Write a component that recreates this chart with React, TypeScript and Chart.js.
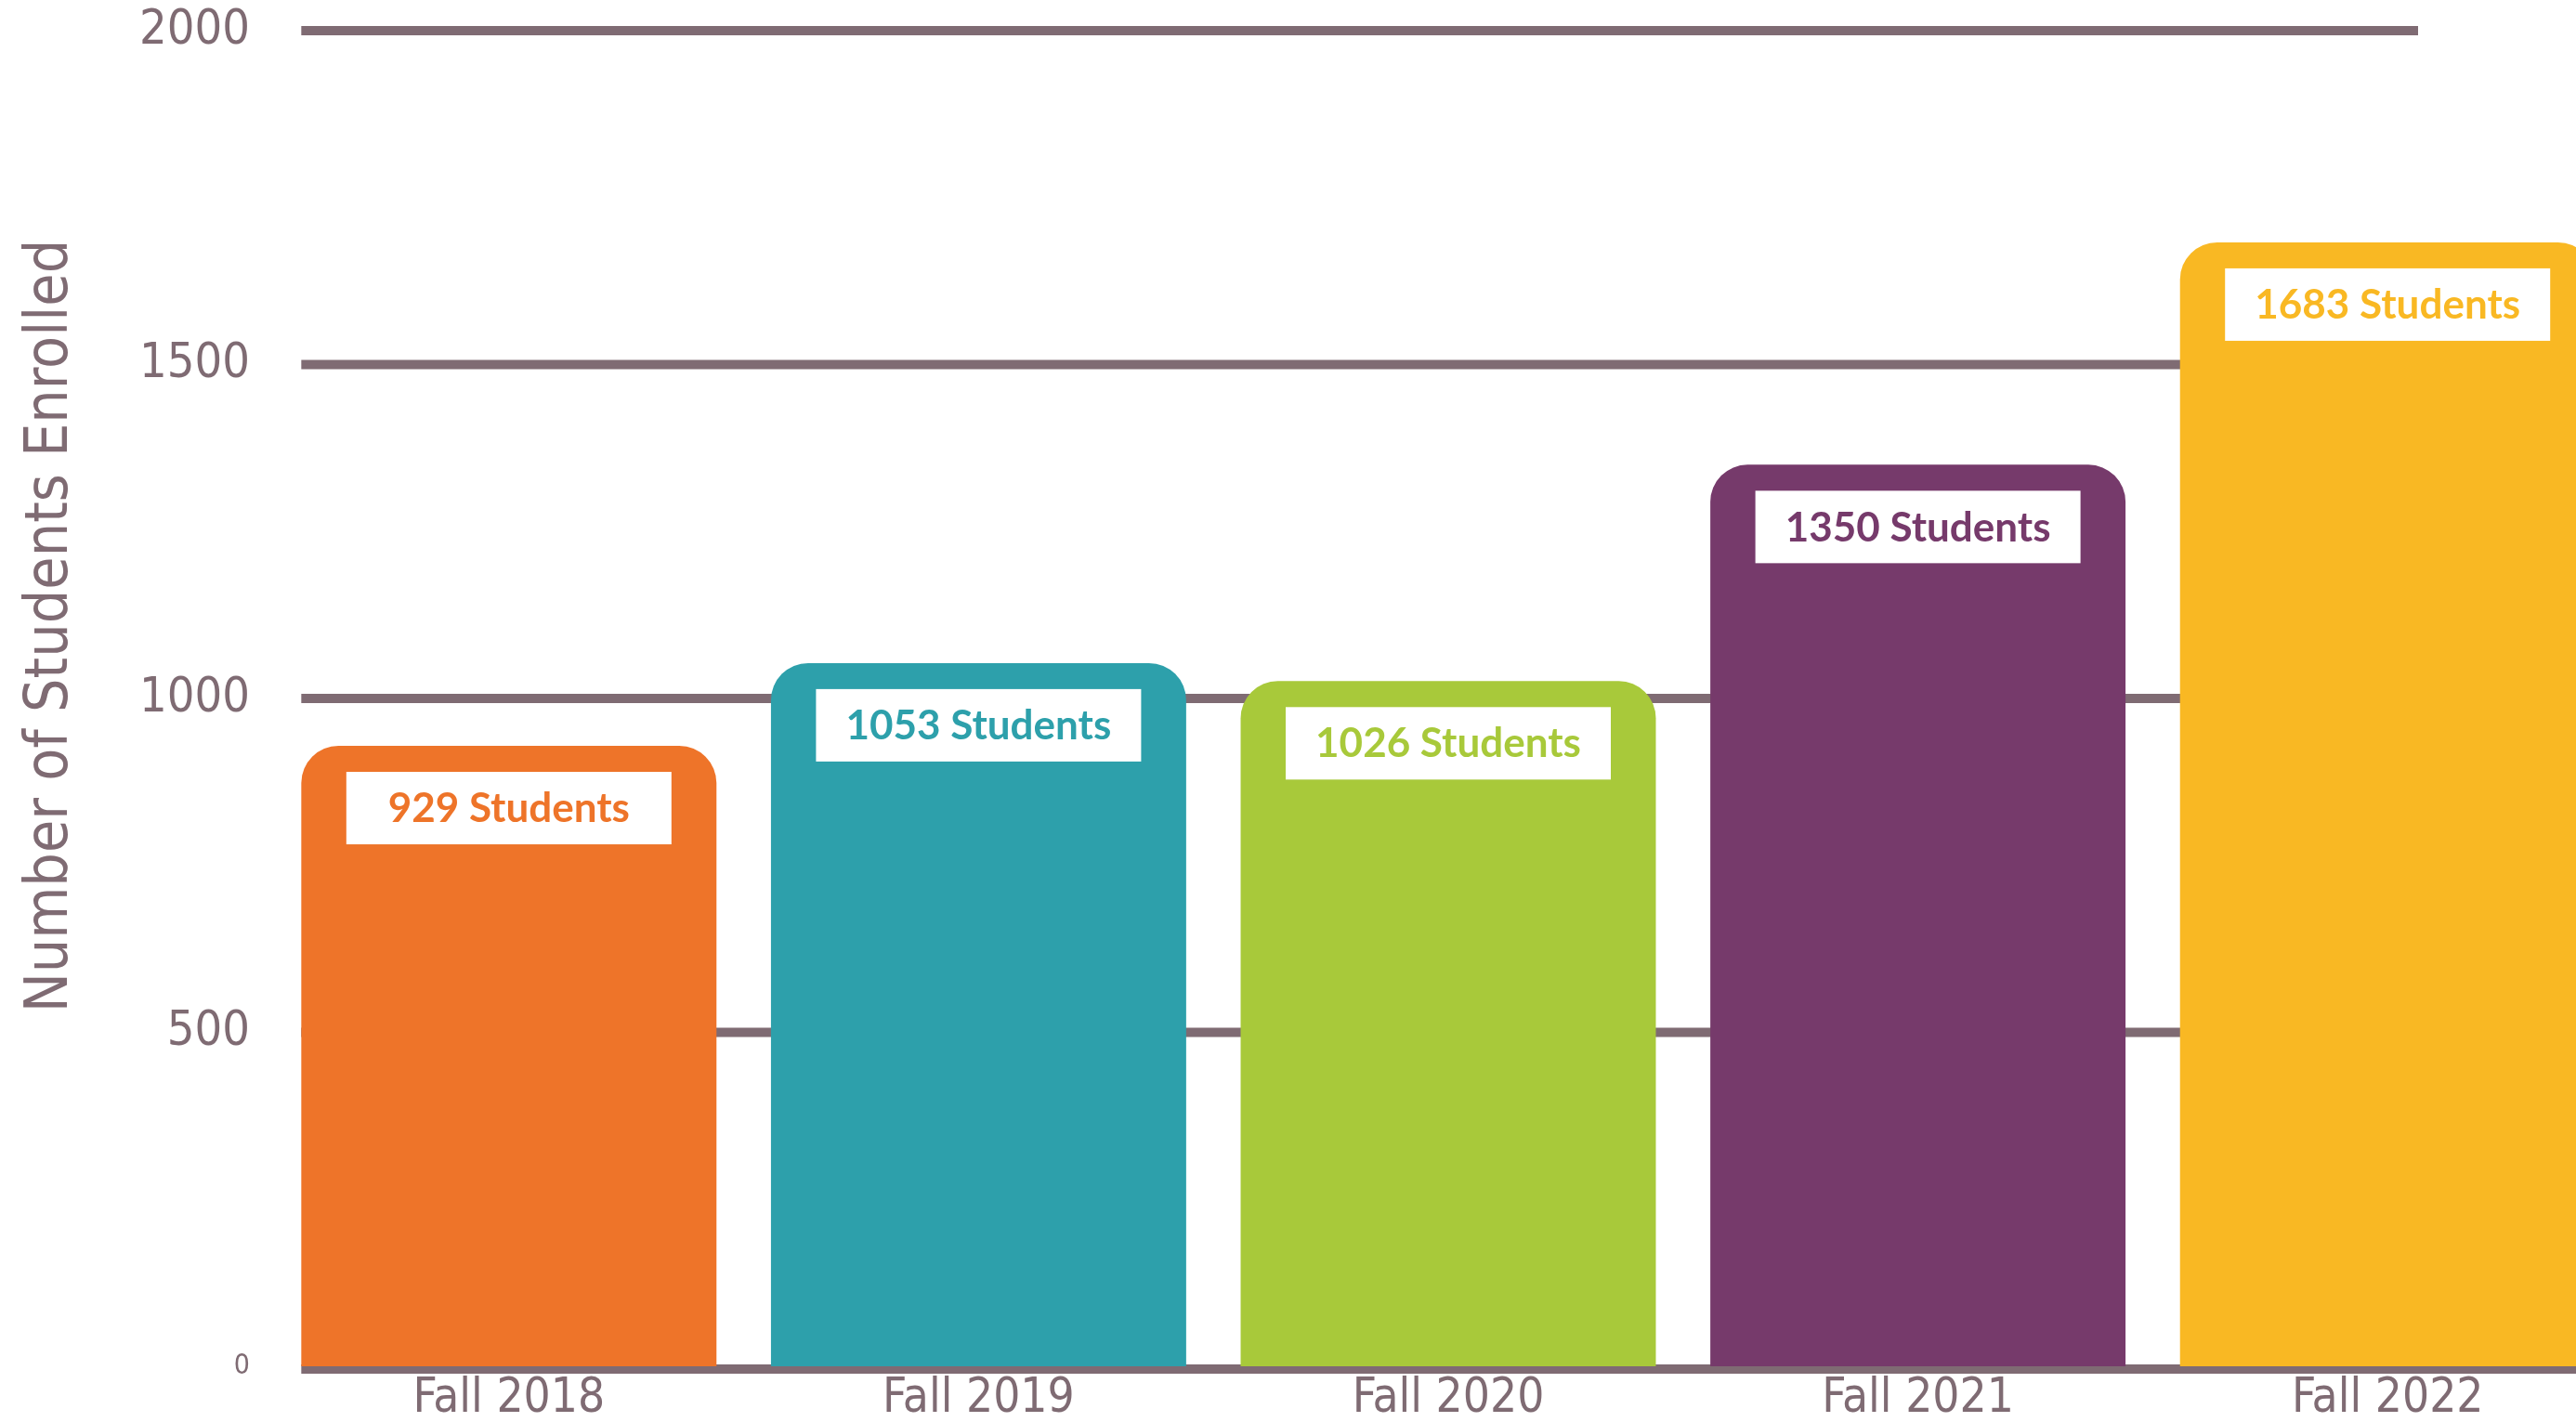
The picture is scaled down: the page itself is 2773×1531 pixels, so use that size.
import React, { useEffect, useRef } from 'react';
import { Chart, registerables } from 'chart.js';

Chart.register(...registerables);

const categories = ['Fall 2018', 'Fall 2019', 'Fall 2020', 'Fall 2021', 'Fall 2022'];
const enrolled = [929, 1053, 1026, 1350, 1683];
const barColors = ['#EE7429', '#2DA0AB', '#A8C93A', '#763A6B', '#F9B823'];
const yTickValues = [0, 500, 1000, 1500, 2000];
const yTitle = 'Number of Students Enrolled';
const labelSuffix = ' Students';

const GRAY = '#7F6B73';
const NARROW = "'Liberation Sans Narrow', 'Arial Narrow', 'DejaVu Sans Condensed', sans-serif";
const LABEL_FONT = "bold 44px Lato, 'Open Sans', sans-serif";

const CANVAS_W = 2830;
const CANVAS_H = 1531;

const gridPlugin = {
  id: 'customGrid',
  beforeDatasetsDraw(chart: any) {
    const { ctx, chartArea, scales } = chart;
    const y = scales.y;
    const meta = chart.getDatasetMeta(0);
    const first: any = meta.data[0];
    if (!first) return;
    const left = first.x - first.width / 2;
    const right = chartArea.right - 220;
    ctx.save();
    ctx.fillStyle = GRAY;
    yTickValues.forEach((v) => {
      const py = y.getPixelForValue(v);
      if (v === 0) {
        ctx.fillRect(left, py - 2, chart.width - left, 10);
      } else {
        ctx.fillRect(left, py - 5, right - left, 10);
      }
    });
    ctx.restore();
  },
};

const labelPlugin = {
  id: 'valueBoxes',
  afterDatasetsDraw(chart: any) {
    const { ctx } = chart;
    const meta = chart.getDatasetMeta(0);
    const bw = 350;
    const bh = 78;
    ctx.save();
    meta.data.forEach((el: any, i: number) => {
      const top = el.y + 28;
      ctx.fillStyle = '#FFFFFF';
      ctx.fillRect(el.x - bw / 2, top, bw, bh);
      ctx.fillStyle = barColors[i];
      ctx.font = LABEL_FONT;
      ctx.textAlign = 'center';
      ctx.textBaseline = 'middle';
      ctx.fillText(`${enrolled[i]}${labelSuffix}`, el.x, top + bh / 2 + 1);
    });
    ctx.restore();
  },
};

const yTitlePlugin = {
  id: 'yTitle',
  afterDraw(chart: any) {
    const { ctx } = chart;
    ctx.save();
    ctx.translate(55, 674);
    ctx.rotate(-Math.PI / 2);
    ctx.fillStyle = GRAY;
    ctx.font = `64px ${NARROW}`;
    ctx.textAlign = 'center';
    ctx.textBaseline = 'middle';
    ctx.fillText(yTitle, 0, 0);
    ctx.restore();
  },
};

export default function App() {
  const canvasRef = useRef<HTMLCanvasElement | null>(null);

  useEffect(() => {
    const canvas = canvasRef.current;
    if (!canvas) return;
    const chart = new Chart(canvas, {
      type: 'bar',
      data: {
        labels: categories,
        datasets: [
          {
            data: enrolled,
            backgroundColor: barColors,
            borderRadius: 40,
            borderSkipped: 'start',
            barPercentage: 0.884,
            categoryPercentage: 1,
          },
        ],
      },
      options: {
        animation: false,
        responsive: false,
        devicePixelRatio: 1,
        layout: { padding: { top: 33, left: 0, right: 7, bottom: 0 } },
        plugins: {
          legend: { display: false },
          tooltip: { enabled: false },
        },
        scales: {
          x: {
            grid: { display: false, drawTicks: false },
            border: { display: false },
            ticks: {
              color: GRAY,
              font: { family: NARROW, size: 51 },
              padding: 5,
              maxRotation: 0,
              autoSkip: false,
            },
            afterFit: (s: any) => {
              s.height = 60;
            },
          },
          y: {
            min: 0,
            max: 2000,
            grid: { display: false, drawTicks: false },
            border: { display: false },
            ticks: {
              stepSize: 500,
              color: GRAY,
              padding: 26,
              callback: (v: any) => String(v),
              font: (c: any) =>
                c.tick && c.tick.value === 0
                  ? { family: NARROW, size: 30 }
                  : { family: NARROW, size: 52 },
            },
            afterFit: (s: any) => {
              s.width = 295;
              s.paddingTop = 0;
              s.paddingBottom = 0;
            },
          },
        },
      },
      plugins: [gridPlugin, labelPlugin, yTitlePlugin],
    } as any);
    return () => chart.destroy();
  }, []);

  return (
    <div
      style={{
        position: 'fixed',
        left: 0,
        top: 0,
        width: '100vw',
        height: '100vh',
        overflow: 'hidden',
        background: '#FFFFFF',
      }}
    >
      <canvas
        ref={canvasRef}
        width={CANVAS_W}
        height={CANVAS_H}
        style={{ width: `${CANVAS_W}px`, height: `${CANVAS_H}px`, display: 'block' }}
      />
    </div>
  );
}
